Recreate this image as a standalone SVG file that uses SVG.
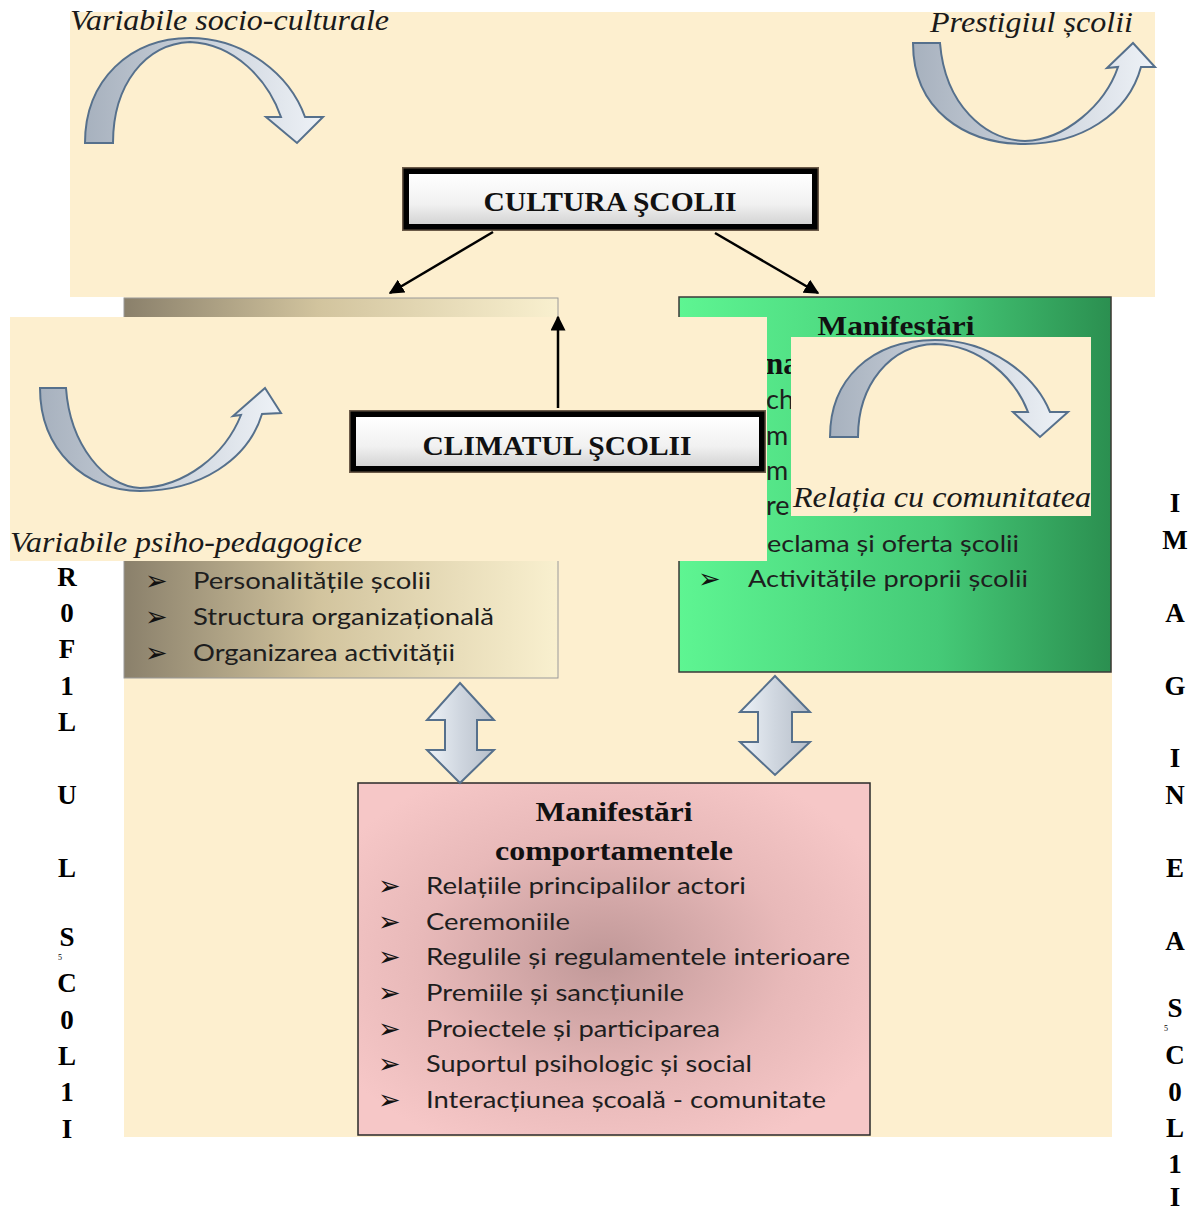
<svg xmlns="http://www.w3.org/2000/svg" width="1201" height="1213" viewBox="0 0 1201 1213">
<defs>
<style>
.bg{fill:#fdefcf}
.it{font-family:"Liberation Serif",serif;font-style:italic;font-size:29px;fill:#1a1a1a}
.ttl{font-family:"Liberation Serif",serif;font-weight:bold;font-size:28px;fill:#111}
.item{font-family:"Lato","Liberation Sans",sans-serif;font-size:24px;fill:#1e1e1e}
.frag{font-family:"Lato","Liberation Sans",sans-serif;font-size:27px;fill:#1e1e1e}
.bul{font-family:"DejaVu Sans",sans-serif;font-size:27px;fill:#111}
.vl{font-family:"Liberation Serif",serif;font-weight:bold;font-size:27px;fill:#000;text-anchor:middle}
.sm{font-family:"Liberation Serif",serif;font-size:8px;fill:#000}
.carr{fill:url(#arrG);stroke:#56708c;stroke-width:2}
.darr{fill:url(#darrG);stroke:#56708c;stroke-width:2}
.con{stroke:#000;stroke-width:2.5;fill:none;marker-end:url(#ah)}
</style>
<linearGradient id="arrG" x1="0" y1="0" x2="1" y2="0">
<stop offset="0" stop-color="#a7b1be"/><stop offset="1" stop-color="#eef2f7"/>
</linearGradient>
<linearGradient id="darrG" x1="0" y1="0" x2="1" y2="0">
<stop offset="0" stop-color="#eef3f8"/><stop offset="0.5" stop-color="#cfd6df"/><stop offset="1" stop-color="#b6bec9"/>
</linearGradient>
<linearGradient id="btnG" x1="0" y1="0" x2="0" y2="1">
<stop offset="0" stop-color="#ffffff"/><stop offset="0.6" stop-color="#f1f1f1"/><stop offset="1" stop-color="#d4d4d4"/>
</linearGradient>
<linearGradient id="brownG" x1="0" y1="0" x2="1" y2="0">
<stop offset="0" stop-color="#8a806b"/><stop offset="0.45" stop-color="#d2c49e"/><stop offset="1" stop-color="#f9f0cf"/>
</linearGradient>
<linearGradient id="greenG" x1="0" y1="0" x2="1" y2="0">
<stop offset="0" stop-color="#5ef592"/><stop offset="0.6" stop-color="#45ca77"/><stop offset="1" stop-color="#2b8f50"/>
</linearGradient>
<radialGradient id="pinkG" cx="0.48" cy="0.5" r="0.6">
<stop offset="0" stop-color="#c09898"/><stop offset="0.6" stop-color="#e8b9b9"/><stop offset="1" stop-color="#f6c7c7"/>
</radialGradient>
<marker id="ah" viewBox="0 0 10 10" refX="9" refY="5" markerWidth="6" markerHeight="6" orient="auto" markerUnits="strokeWidth">
<path d="M0,0 L10,5 L0,10 Z" fill="#000"/>
</marker>
</defs>
<rect width="1201" height="1213" fill="#ffffff"/>

<!-- backgrounds -->
<rect class="bg" x="70" y="12" width="1085" height="285"/>
<rect class="bg" x="124" y="297" width="988" height="840"/>

<g id="node-variabile-socio">
<path class="carr" d="M85,143 C85,80 130,38 190,38 C245,38 290,75 305,117 L323,117 L297,143 L266,117 L281,117 C268,80 235,44 190,42 C145,44 113,85 113,143 Z"/>
<text class="it" x="70" y="30" textLength="319" lengthAdjust="spacingAndGlyphs">Variabile socio-culturale</text>
</g>

<g id="node-prestigiu">
<path class="carr" d="M913,43 L940,43 C945,105 985,140 1025,141 C1065,140 1105,105 1118,67 L1107,68 L1133,43 L1155,67 L1141,67 C1128,115 1080,144 1025,144 C965,144 913,110 913,43 Z"/>
<text class="it" x="930" y="32" textLength="203" lengthAdjust="spacingAndGlyphs">Prestigiul școlii</text>
</g>

<g id="node-cultura">
<rect x="402" y="167" width="417" height="64" fill="#6b5a48"/>
<rect x="403.5" y="168.5" width="414" height="61" fill="#000"/>
<rect x="409" y="174" width="403" height="50" fill="url(#btnG)"/>
<text class="ttl" x="610" y="211" text-anchor="middle" textLength="253" lengthAdjust="spacingAndGlyphs">CULTURA ŞCOLII</text>
</g>

<g id="node-left-box">
<rect x="124" y="298" width="434" height="380" fill="url(#brownG)" stroke="#9a9a9a" stroke-width="1"/>
<text class="bul" x="145" y="590">➢</text>
<text class="item" x="193" y="589" textLength="238" lengthAdjust="spacingAndGlyphs">Personalitățile școlii</text>
<text class="bul" x="145" y="626">➢</text>
<text class="item" x="193" y="625" textLength="301" lengthAdjust="spacingAndGlyphs">Structura organizațională</text>
<text class="bul" x="145" y="662">➢</text>
<text class="item" x="193" y="661" textLength="262" lengthAdjust="spacingAndGlyphs">Organizarea activității</text>
</g>

<g id="node-green-box">
<rect x="679" y="297" width="432" height="375" fill="url(#greenG)" stroke="#3a3a3a" stroke-width="1.5"/>
<text class="ttl" x="896" y="335" text-anchor="middle" textLength="157" lengthAdjust="spacingAndGlyphs">Manifestări</text>
<text class="ttl" x="766" y="374" style="font-size:31px">na</text>
<text class="frag" x="766" y="409">ch</text>
<text class="frag" x="766" y="445">m</text>
<text class="frag" x="766" y="480">m</text>
<text class="frag" x="766" y="515">re:</text>
<text class="item" x="767" y="552" textLength="252" lengthAdjust="spacingAndGlyphs">eclama și oferta școlii</text>
<text class="bul" x="698" y="588">➢</text>
<text class="item" x="748" y="587" textLength="280" lengthAdjust="spacingAndGlyphs">Activitățile proprii școlii</text>
</g>

<g id="node-relatia">
<rect class="bg" x="791" y="337" width="300" height="179"/>
<path class="carr" d="M830,437 C830,380 870,340 935,340 C990,340 1035,375 1050,412 L1068,412 L1040,437 L1013,412 L1028,412 C1015,378 980,345 935,344 C890,345 858,385 858,437 Z"/>
<text class="it" x="793" y="507" textLength="298" lengthAdjust="spacingAndGlyphs">Relația cu comunitatea</text>
</g>

<g id="node-climat-panel">
<rect class="bg" x="10" y="317" width="757" height="244"/>
<path class="carr" d="M40,388 L66,388 C70,445 105,487 140,488 C185,487 225,455 241,415 L233,416 L265,388 L281,413 L262,414 C248,460 200,491 140,491 C85,491 40,450 40,388 Z"/>
<text class="it" x="10" y="552" textLength="352" lengthAdjust="spacingAndGlyphs">Variabile psiho-pedagogice</text>
</g>

<g id="node-climatul">
<rect x="349" y="410" width="417" height="63" fill="#6b5a48"/>
<rect x="350.5" y="411.5" width="414" height="60" fill="#000"/>
<rect x="356" y="417" width="403" height="49" fill="url(#btnG)"/>
<text class="ttl" x="557" y="455" text-anchor="middle" textLength="269" lengthAdjust="spacingAndGlyphs">CLIMATUL ŞCOLII</text>
</g>

<g id="node-pink-box">
<rect x="358" y="783" width="512" height="352" fill="url(#pinkG)" stroke="#2a2a2a" stroke-width="1.5"/>
<text class="ttl" x="614" y="821" text-anchor="middle" textLength="157" lengthAdjust="spacingAndGlyphs">Manifestări</text>
<text class="ttl" x="614" y="860" text-anchor="middle" textLength="238" lengthAdjust="spacingAndGlyphs">comportamentele</text>
<text class="bul" x="378" y="895">➢</text>
<text class="item" x="426" y="894" textLength="320" lengthAdjust="spacingAndGlyphs">Relațiile principalilor actori</text>
<text class="bul" x="378" y="931">➢</text>
<text class="item" x="426" y="930" textLength="144" lengthAdjust="spacingAndGlyphs">Ceremoniile</text>
<text class="bul" x="378" y="966">➢</text>
<text class="item" x="426" y="965" textLength="424" lengthAdjust="spacingAndGlyphs">Regulile și regulamentele interioare</text>
<text class="bul" x="378" y="1002">➢</text>
<text class="item" x="426" y="1001" textLength="258" lengthAdjust="spacingAndGlyphs">Premiile și sancțiunile</text>
<text class="bul" x="378" y="1038">➢</text>
<text class="item" x="426" y="1037" textLength="294" lengthAdjust="spacingAndGlyphs">Proiectele și participarea</text>
<text class="bul" x="378" y="1073">➢</text>
<text class="item" x="426" y="1072" textLength="326" lengthAdjust="spacingAndGlyphs">Suportul psihologic și social</text>
<text class="bul" x="378" y="1109">➢</text>
<text class="item" x="426" y="1108" textLength="400" lengthAdjust="spacingAndGlyphs">Interacțiunea școală - comunitate</text>
</g>

<g id="node-rolul">
<text class="vl" x="67" y="586">R</text>
<text class="vl" x="67" y="622">0</text>
<text class="vl" x="67" y="658">F</text>
<text class="vl" x="67" y="695">1</text>
<text class="vl" x="67" y="731">L</text>
<text class="vl" x="67" y="804">U</text>
<text class="vl" x="67" y="877">L</text>
<text class="vl" x="67" y="946">S</text>
<text class="sm" x="58" y="960">5</text>
<text class="vl" x="67" y="992">C</text>
<text class="vl" x="67" y="1029">0</text>
<text class="vl" x="67" y="1065">L</text>
<text class="vl" x="67" y="1101">1</text>
<text class="vl" x="67" y="1138">I</text>
</g>

<g id="node-imaginea">
<text class="vl" x="1175" y="512">I</text>
<text class="vl" x="1175" y="549">M</text>
<text class="vl" x="1175" y="622">A</text>
<text class="vl" x="1175" y="695">G</text>
<text class="vl" x="1175" y="767">I</text>
<text class="vl" x="1175" y="804">N</text>
<text class="vl" x="1175" y="877">E</text>
<text class="vl" x="1175" y="950">A</text>
<text class="vl" x="1175" y="1017">S</text>
<text class="sm" x="1164" y="1031">5</text>
<text class="vl" x="1175" y="1064">C</text>
<text class="vl" x="1175" y="1101">0</text>
<text class="vl" x="1175" y="1137">L</text>
<text class="vl" x="1175" y="1173">1</text>
<text class="vl" x="1175" y="1206">I</text>
</g>

<g id="connectors">
<line class="con" x1="493" y1="232" x2="390" y2="293"/>
<line class="con" x1="715" y1="233" x2="818" y2="293"/>
<line class="con" x1="558" y1="408" x2="558" y2="317"/>
<path class="darr" d="M460,683 L494,720 L477,720 L477,750 L494,750 L460,783 L427,750 L445,750 L445,720 L427,720 Z"/>
<path class="darr" d="M775,676 L810,712 L792,712 L792,742 L810,742 L775,775 L740,742 L758,742 L758,712 L740,712 Z"/>
</g>
</svg>
